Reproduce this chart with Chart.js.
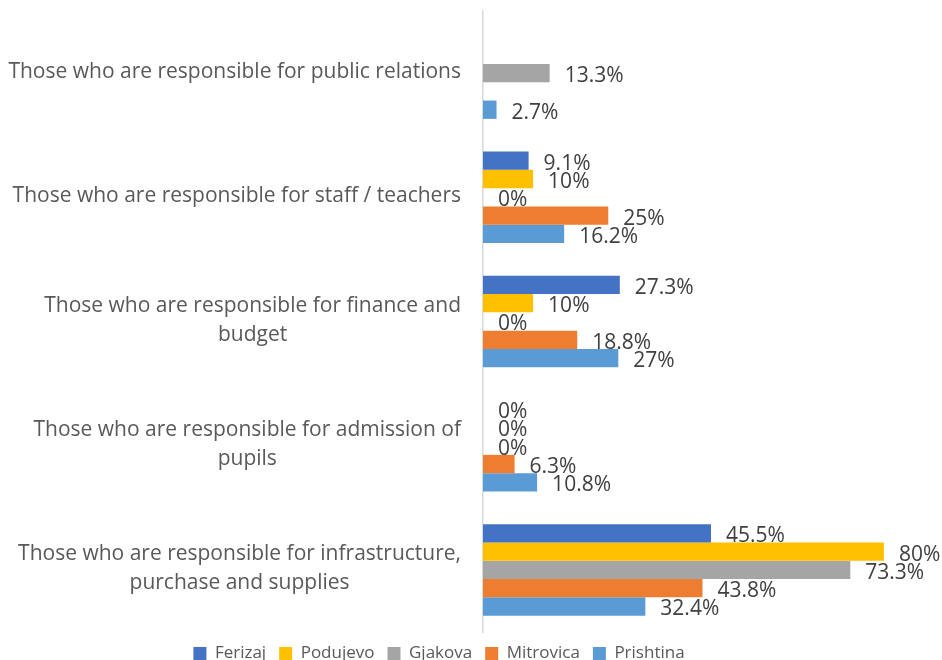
<!DOCTYPE html>
<html>
<head>
<meta charset="utf-8">
<script src="https://cdn.jsdelivr.net/npm/chart.js@4/dist/chart.umd.min.js"></script>
<style>
  html, body { margin: 0; padding: 0; background: #fff; overflow: hidden; }
  #grafico-wrap { width: 942px; height: 672px; position: relative; }
</style>
</head>
<body>
<div id="grafico-wrap"><canvas id="responsaveisChart"></canvas></div>
<script>
// Categorias (cada linha do rótulo num item do array)
const categorias = [
  ["Those who are responsible for public relations"],
  ["Those who are responsible for staff / teachers"],
  ["Those who are responsible for finance and", "budget"],
  ["Those who are responsible for admission of", "pupils"],
  ["Those who are responsible for infrastructure,", "purchase and supplies"],
];

// Percentagens por município (null = sem resposta)
const ferizaj = [null, 9.1, 27.3, 0, 45.5];
const podujevo = [null, 10, 10, 0, 80];
const gjakova = [13.3, 0, 0, 0, 73.3];
const mitrovica = [null, 25, 18.8, 6.3, 43.8];
const prishtina = [2.7, 16.2, 27, 10.8, 32.4];

const FONTE = "'Open Sans', 'DejaVu Sans', sans-serif";

// Rótulos das categorias (alinhados à direita, linhas centradas) e dos valores
const rotulosPlugin = {
  id: "rotulos",
  afterLayout(chart) {
    // a legenda fica um pouco à esquerda do centro
    chart.legend.left -= 28;
    chart.legend.right -= 28;
  },
  afterDatasetsDraw(chart) {
    const ctx = chart.ctx;
    const escalaX = chart.scales.x;
    const escalaY = chart.scales.y;
    ctx.save();

    ctx.font = "21px " + FONTE;
    ctx.fillStyle = "#404040";
    ctx.textAlign = "left";
    ctx.textBaseline = "middle";
    chart.data.datasets.forEach((ds, i) => {
      chart.getDatasetMeta(i).data.forEach((barra, j) => {
        const v = ds.data[j];
        if (v === null) return;
        ctx.fillText(v + "%", escalaX.getPixelForValue(v) + 15, barra.y + 3);
      });
    });

    ctx.font = "21px " + FONTE;
    ctx.fillStyle = "#595959";
    ctx.textAlign = "center";
    const direita = escalaY.right - 22;
    const alturaLinha = 29;
    categorias.forEach((linhas, i) => {
      const larg = Math.max(...linhas.map((l) => ctx.measureText(l).width));
      const cx = direita - larg / 2;
      const y0 = escalaY.getPixelForValue(i) - ((linhas.length - 1) * alturaLinha) / 2 - 1;
      linhas.forEach((l, k) => ctx.fillText(l, cx, y0 + k * alturaLinha));
    });

    ctx.restore();
  },
};

const ctx = document.getElementById("responsaveisChart").getContext("2d");
new Chart(ctx, {
  type: "bar",
  data: {
    labels: categorias,
    datasets: [
      { label: "Ferizaj", data: ferizaj, backgroundColor: "#4472C4" },
      { label: "Podujevo", data: podujevo, backgroundColor: "#FFC000" },
      { label: "Gjakova", data: gjakova, backgroundColor: "#A5A5A5" },
      { label: "Mitrovica", data: mitrovica, backgroundColor: "#ED7D31" },
      { label: "Prishtina", data: prishtina, backgroundColor: "#5B9BD5" },
    ],
  },
  options: {
    indexAxis: "y",
    responsive: true,
    maintainAspectRatio: false,
    animation: false,
    categoryPercentage: 0.737,
    barPercentage: 1,
    layout: { padding: { top: 11, right: 8, left: 0, bottom: 0 } },
    scales: {
      x: { display: false, min: 0, max: 90 },
      y: {
        afterFit: (escala) => { escala.width = 483; },
        ticks: { display: false },
        grid: { display: false },
        border: { display: true, color: "#d9d9d9", width: 1.5 },
      },
    },
    plugins: {
      tooltip: { enabled: false },
      legend: {
        position: "bottom",
        labels: {
          boxWidth: 13,
          boxHeight: 13,
          padding: 13,
          color: "#595959",
          font: { family: FONTE, size: 17 },
        },
      },
    },
  },
  plugins: [rotulosPlugin],
});
</script>
</body>
</html>
